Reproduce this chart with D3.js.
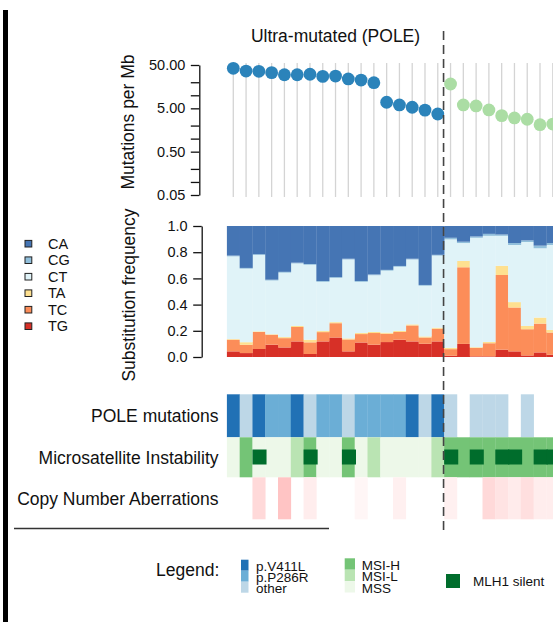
<!DOCTYPE html>
<html>
<head>
<meta charset="utf-8">
<script src="https://cdn.jsdelivr.net/npm/d3@7"></script>
<style>
  html, body { margin: 0; padding: 0; background: #fff; }
  svg { display: block; font-family: "Liberation Sans", Arial, Helvetica, sans-serif; }
</style>
</head>
<body>
<svg id="chart" width="553" height="622"></svg>
<script>
// ---------------- data ----------------
const samples = ["P01","P02","P03","P04","P05","P06","P07","P08","P09","P10","P11","P12","P13","P14","P15","P16","P17",
                 "M01","M02","M03","M04","M05","M06","M07","M08","M09"];
const groups = ["POLE","POLE","POLE","POLE","POLE","POLE","POLE","POLE","POLE","POLE","POLE","POLE","POLE","POLE","POLE","POLE","POLE",
                "MSI","MSI","MSI","MSI","MSI","MSI","MSI","MSI","MSI"];
const mutPerMb = [41.9, 36.3, 35.7, 33.3, 29.8, 29.8, 30.6, 27.3, 27.8, 23.8, 22.5, 19.5, 6.9, 6.0, 5.3, 4.55, 3.7,
                  18.2, 6.0, 5.67, 4.6, 3.39, 3.0, 2.8, 2.1, 2.17];
const mutTicks = [50, 20, 10, 5, 2, 1, 0.5, 0.2, 0.1, 0.05];
const mutTickLabels = [50, 5, 0.5, 0.05];
const freqTicks = [0, 0.2, 0.4, 0.6, 0.8, 1.0];

// substitution frequencies (stack bottom -> top: TG, TC, TA, CT, CG, CA)
const subTypes = ["CA","CG","CT","TA","TC","TG"];
const subCA = [0.226,0.32,0.215,0.41,0.35,0.28,0.29,0.42,0.39,0.25,0.42,0.37,0.335,0.305,0.25,0.45,0.22,
               0.09,0.12,0.08,0.06,0.065,0.13,0.11,0.15,0.13];
const subCG = [0.006,0.006,0.006,0.006,0.006,0.006,0.006,0.006,0.006,0.006,0.006,0.006,0.006,0.006,0.006,0.006,0.006,
               0.012,0.01,0.01,0.015,0.01,0.015,0.012,0.02,0.015];
const subCT = [0.631,0.561,0.583,0.41,0.492,0.477,0.572,0.376,0.338,0.602,0.391,0.433,0.473,0.49,0.495,0.387,0.55,
               0.828,0.137,0.835,0.81,0.229,0.436,0.641,0.529,0.648];
const subTA = [0.005,0.02,0.005,0.004,0.008,0.008,0.02,0.008,0.008,0.008,0.008,0.008,0.008,0.008,0.008,0.008,0.008,
               0.01,0.048,0.005,0.01,0.07,0.041,0.025,0.046,0.02];
const subTC = [0.089,0.063,0.13,0.076,0.071,0.11,0.089,0.071,0.109,0.091,0.064,0.089,0.064,0.059,0.122,0.048,0.097,
               0.05,0.585,0.065,0.10,0.57,0.335,0.20,0.22,0.17];
const subTG = [0.043,0.03,0.061,0.094,0.073,0.119,0.023,0.119,0.149,0.043,0.111,0.094,0.114,0.132,0.119,0.101,0.119,
               0.01,0.10,0.005,0.005,0.056,0.043,0.012,0.035,0.017];

const poleMut = ["p.V411L","other","p.V411L","p.P286R","p.P286R","p.V411L","other","p.P286R","p.P286R","other","p.P286R","p.P286R","p.P286R","p.P286R","p.V411L","other","p.V411L",
                 "other","none","other","other","other","none","other","none","none"];
const msiStatus = ["MSS","MSI-H","MSS","MSS","MSS","MSI-L","MSI-H","MSS","MSS","MSI-H","MSS","MSI-L","MSS","MSS","MSS","MSS","MSI-L",
                   "MSI-H","MSI-H","MSI-H","MSI-H","MSI-H","MSI-H","MSI-H","MSI-H","MSI-H"];
const mlh1Silent = [0,0,1,0,0,0,1,0,0,1,0,0,0,0,0,0,0,
                    1,0,1,0,1,1,0,1,1];
const cnaLevel = [0,0,0.30,0,0.46,0,0.14,0,0,0,0.07,0,0,0.12,0,0,0,
                  0.12,0,0,0.30,0.22,0.16,0.25,0.14,0.14];

const poleCats = ["p.V411L","p.P286R","other"];
const msiCats = ["MSI-H","MSI-L","MSS"];

// ---------------- styles ----------------
const subColors = {CA:"#4575b4", CG:"#91bfdb", CT:"#e0f3f8", TA:"#fee090", TC:"#fc8d59", TG:"#d73027"};
const groupColors = {POLE:"#2b83ba", MSI:"#abdda4"};
const poleColors = {"p.V411L":"#2171b5","p.P286R":"#6baed6","other":"#bdd7e7","none":"none"};
const msiColors = {"MSI-H":"#74c476","MSI-L":"#bae4b3","MSS":"#edf8e9"};
const mlh1Color = "#006d2c";
const cnaColor = d3.scaleLinear().domain([0,1]).range(["#ffffff","#ff7f7f"]);

const svg = d3.select("#chart");
const labelFont = 17.5, tickFont = 14.5, legFont = 13.5;

const x = d3.scaleBand().domain(d3.range(samples.length)).range([226.9, 226.9 + samples.length*12.78]).padding(0);
const xc = i => x(i) + x.bandwidth()/2;

svg.append("defs").append("clipPath").attr("id","clip")
  .append("rect").attr("x",0).attr("y",0).attr("width",553).attr("height",622);
const g = svg.append("g").attr("clip-path","url(#clip)");

// left black bar
g.append("rect").attr("x",3).attr("y",10).attr("width",5).attr("height",612).attr("fill","#000");

// title
g.append("text").attr("x",(x(0)+x(17))/2).attr("y",42).attr("text-anchor","middle")
  .attr("font-size",labelFont).attr("fill","#111").text("Ultra-mutated (POLE)");

// ---------------- top panel: mutations per Mb ----------------
const yMut = d3.scaleLog().domain([0.05, 50]).range([195, 65]);
g.append("g").selectAll("line").data(samples).join("line")
  .attr("x1",(d,i)=>xc(i)).attr("x2",(d,i)=>xc(i))
  .attr("y1",63).attr("y2",197)
  .attr("stroke","#d4d4d4").attr("stroke-width",1.3);
g.append("g").selectAll("circle").data(mutPerMb).join("circle")
  .attr("cx",(d,i)=>xc(i)).attr("cy",d=>yMut(d)).attr("r",6.4)
  .attr("fill",(d,i)=>groupColors[groups[i]]);

const axMut = d3.axisLeft(yMut).tickValues(mutTicks).tickSize(8.5).tickSizeOuter(0).tickPadding(5.5)
  .tickFormat(d => mutTickLabels.includes(d) ? d3.format(".2f")(d) : "");
const gAxMut = g.append("g").attr("transform","translate(199.3,0)").call(axMut);
gAxMut.selectAll("text").attr("font-size",tickFont).attr("font-family","Liberation Sans, Arial, sans-serif").attr("fill","#111");
gAxMut.selectAll("line,path").attr("stroke","#111").attr("stroke-width",1.3);

g.append("text").attr("transform","translate(134,122) rotate(-90)").attr("text-anchor","middle")
  .attr("font-size",labelFont).attr("fill","#111").text("Mutations per Mb");

// ---------------- substitution frequency ----------------
const yFreq = d3.scaleLinear().domain([0,1]).range([357, 226]);
const subTable = samples.map((s,i)=>({CA:subCA[i],CG:subCG[i],CT:subCT[i],TA:subTA[i],TC:subTC[i],TG:subTG[i]}));
const stackKeys = ["TG","TC","TA","CT","CG","CA"];
const stacked = d3.stack().keys(stackKeys)(subTable);
const totals = subTable.map(d=>stackKeys.reduce((a,k)=>a+d[k],0));
g.append("g").selectAll("g").data(stacked).join("g")
  .attr("fill",d=>subColors[d.key])
  .selectAll("rect").data(d=>d).join("rect")
  .attr("x",(d,i)=>x(i)).attr("width",x.bandwidth()+0.3)
  .attr("y",(d,i)=>yFreq(d[1]/totals[i])).attr("height",(d,i)=>yFreq(d[0]/totals[i]) - yFreq(d[1]/totals[i]));

const axFreq = d3.axisLeft(yFreq).tickValues(freqTicks).tickSize(8.5).tickSizeOuter(0).tickPadding(5.5)
  .tickFormat(d3.format(".1f"));
const gAxFreq = g.append("g").attr("transform","translate(201.7,0)").call(axFreq);
gAxFreq.selectAll("text").attr("font-size",tickFont).attr("font-family","Liberation Sans, Arial, sans-serif").attr("fill","#111");
gAxFreq.selectAll("line,path").attr("stroke","#111").attr("stroke-width",1.3);

g.append("text").attr("transform","translate(135,295) rotate(-90)").attr("text-anchor","middle")
  .attr("font-size",labelFont).attr("fill","#111").text("Substitution frequency");

// substitution legend
const subLeg = g.append("g").selectAll("g").data(subTypes).join("g")
  .attr("transform",(d,i)=>`translate(25,${243.7 + i*16.5})`);
subLeg.append("rect").attr("x",0).attr("y",-3.3).attr("width",6.8).attr("height",6.6)
  .attr("fill",d=>subColors[d]).attr("stroke","#222").attr("stroke-width",1);
subLeg.append("text").attr("x",23).attr("y",5.2).attr("font-size",tickFont).attr("fill","#111").text(d=>d);

// ---------------- annotation rows ----------------
g.append("g").selectAll("rect").data(poleMut).join("rect")
  .attr("x",(d,i)=>x(i)).attr("width",x.bandwidth()+0.3)
  .attr("y",394.3).attr("height",43)
  .attr("fill",d=>poleColors[d]);

g.append("g").selectAll("rect").data(msiStatus).join("rect")
  .attr("x",(d,i)=>x(i)).attr("width",x.bandwidth()+0.3)
  .attr("y",437.3).attr("height",40)
  .attr("fill",d=>msiColors[d]);
g.append("g").selectAll("rect").data(mlh1Silent).join("rect")
  .attr("x",(d,i)=>x(i)).attr("width",x.bandwidth()+1.3)
  .attr("y",449.5).attr("height",15)
  .attr("fill",d=>d ? mlh1Color : "none");

g.append("g").selectAll("rect").data(cnaLevel).join("rect")
  .attr("x",(d,i)=>x(i)).attr("width",x.bandwidth()+0.3)
  .attr("y",477.3).attr("height",42)
  .attr("fill",d=>d>0 ? cnaColor(d) : "none");

// row labels
const rowLabels = [["POLE mutations",421.5],["Microsatellite Instability",464],["Copy Number Aberrations",504.8]];
g.append("g").selectAll("text").data(rowLabels).join("text")
  .attr("x",218.5).attr("y",d=>d[1]).attr("text-anchor","end")
  .attr("font-size",labelFont).attr("fill","#111").text(d=>d[0]);

// separator line
g.append("line").attr("x1",14).attr("x2",329).attr("y1",528.5).attr("y2",528.5)
  .attr("stroke","#333").attr("stroke-width",1.5);

// dashed divider
g.append("line").attr("x1",x(17)-0.6).attr("x2",x(17)-0.6).attr("y1",31).attr("y2",534)
  .attr("stroke","#444").attr("stroke-width",1.6).attr("stroke-dasharray","9,5");

// ---------------- legend ----------------
g.append("text").attr("x",156).attr("y",576).attr("font-size",labelFont).attr("fill","#111").text("Legend:");

const poleLeg = g.append("g").selectAll("g").data(poleCats).join("g")
  .attr("transform",(d,i)=>`translate(241,${559.7 + i*11})`);
poleLeg.append("rect").attr("width",7.5).attr("height",11).attr("fill",d=>poleColors[d]);
poleLeg.append("text").attr("x",15).attr("y",10.8).attr("font-size",legFont).attr("fill","#111").text(d=>d);

const msiLeg = g.append("g").selectAll("g").data(msiCats).join("g")
  .attr("transform",(d,i)=>`translate(344.7,${558.3 + i*11.4})`);
msiLeg.append("rect").attr("width",10.3).attr("height",11.4).attr("fill",d=>msiColors[d]);
msiLeg.append("text").attr("x",17).attr("y",11.4).attr("font-size",legFont).attr("fill","#111").text(d=>d);

g.append("rect").attr("x",446).attr("y",574).attr("width",14).attr("height",14).attr("fill",mlh1Color);
g.append("text").attr("x",473).attr("y",586).attr("font-size",legFont).attr("fill","#111").text("MLH1 silent");
</script>
</body>
</html>
